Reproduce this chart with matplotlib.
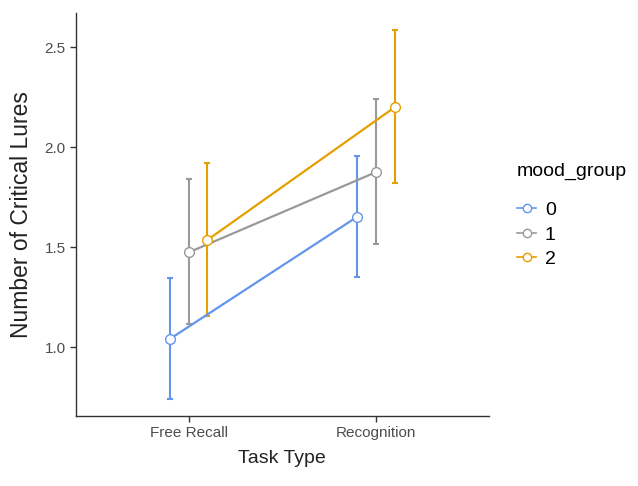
import matplotlib
matplotlib.use("Agg")
import matplotlib.pyplot as plt
from matplotlib.lines import Line2D
import numpy as np

plt.rcParams['font.family'] = ['Liberation Sans', 'DejaVu Sans']

tasks = ["Free Recall", "Recognition"]
groups = ["0", "1", "2"]
colors = ["#6495ED", "#999999", "#E69F00"]
means = {"0": [1.04, 1.652], "1": [1.473, 1.875], "2": [1.535, 2.20]}
upper = {"0": [1.343, 1.953], "1": [1.838, 2.238], "2": [1.918, 2.585]}
lower = {"0": [0.74, 1.352], "1": [1.115, 1.513], "2": [1.155, 1.818]}

fig = plt.figure(figsize=(6.38, 4.86), dpi=100)
ax = fig.add_axes([0.119, 0.144, 0.647, 0.829])

x = np.arange(1, len(tasks) + 1)
offsets = [-0.1, 0.0, 0.1]
handles = []
for g, col, off in zip(groups, colors, offsets):
    m = np.array(means[g]); up = np.array(upper[g]); lo = np.array(lower[g])
    xs = x + off
    ax.errorbar(xs, m, yerr=[m - lo, up - m], fmt="none", ecolor=col,
                elinewidth=1.5, capsize=2.5, capthick=1.5, zorder=2)
    ax.plot(xs, m, color=col, lw=1.6, zorder=3)
    ax.plot(xs, m, "o", ms=7, mfc="white", mec=col, mew=1.0, zorder=4)
    handles.append(Line2D([0], [0], color=col, lw=1.2, marker="o", ms=6,
                          mfc="white", mec=col, mew=1.0))

ax.set_xlim(0.4, 2.6)
ax.set_ylim(0.655, 2.67)
ax.set_xticks(x)
ax.set_xticklabels(tasks)
ax.set_yticks([1.0, 1.5, 2.0, 2.5])
ax.set_yticklabels(["1.0", "1.5", "2.0", "2.5"])
for s in ["top", "right"]:
    ax.spines[s].set_visible(False)
for s in ["left", "bottom"]:
    ax.spines[s].set_color("#333333")
    ax.spines[s].set_linewidth(1.0)
ax.tick_params(colors="#333333", labelcolor="#4D4D4D", labelsize=11, length=4, width=1.0)
ax.set_xlabel("Task Type", fontsize=14, color="#222222", labelpad=7)
ax.set_ylabel("Number of Critical Lures", fontsize=16.5, color="#222222", labelpad=8)

leg = fig.legend(handles=handles, labels=groups, title="mood_group",
                 loc="upper left", bbox_to_anchor=(0.810, 0.664), frameon=False,
                 fontsize=14, title_fontsize=14, handlelength=1.0,
                 handletextpad=0.45, labelspacing=0.36, borderpad=0,
                 borderaxespad=0)
leg._legend_box.align = "left"
leg._legend_box.sep = 15

fig.savefig("out.png", dpi=100)
